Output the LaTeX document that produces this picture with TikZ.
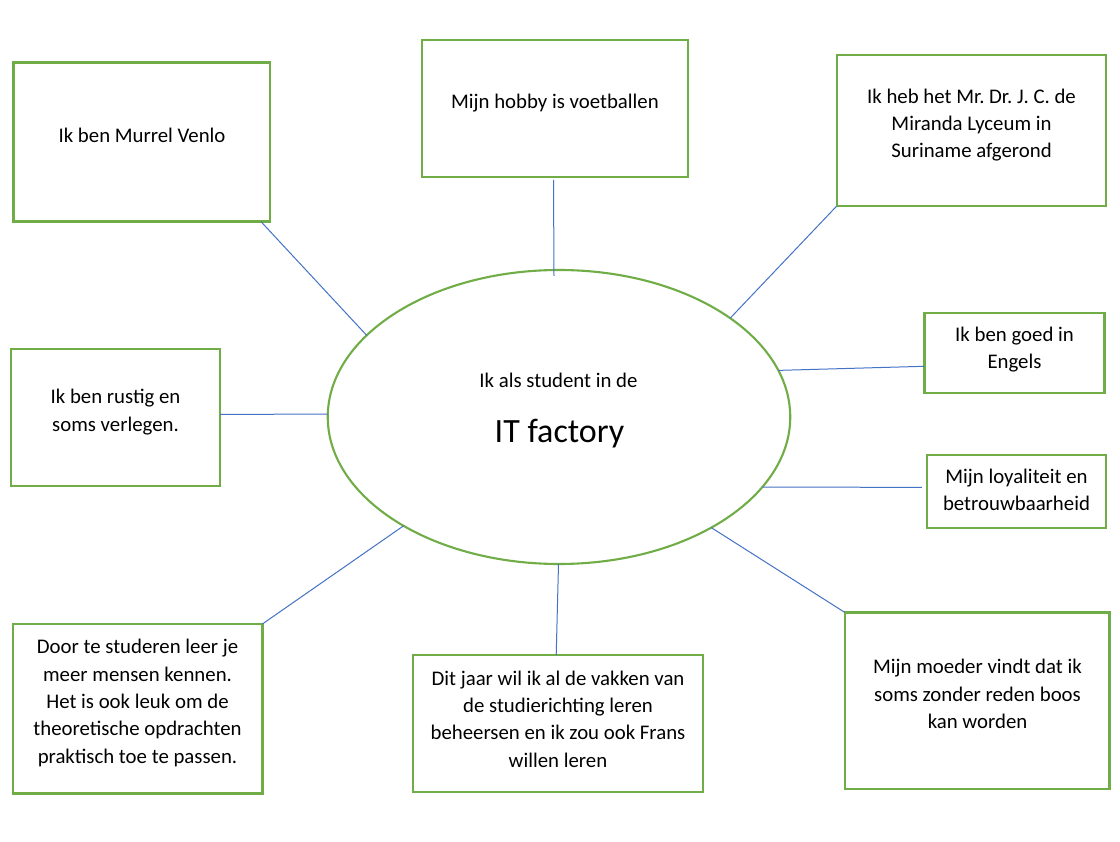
\documentclass[tikz,border=0pt]{standalone}
\usepackage{fontspec}
\setmainfont{Carlito}
\usetikzlibrary{shapes.geometric}
\definecolor{ogreen}{HTML}{70AD47}
\definecolor{oblue}{HTML}{4472C4}
\begin{document}
\frenchspacing
\begin{tikzpicture}[x=1pt,y=-1pt,
  box/.style={draw=ogreen,line width=2.4pt,rectangle,inner sep=0pt,outer sep=0pt},
  oval/.style={draw=ogreen,line width=2.1pt,ellipse,inner sep=0pt,outer sep=0pt},
  txt/.style={align=center,font=\fontsize{20.8}{27.4}\selectfont\frenchspacing,inner sep=0pt},
  conn/.style={draw=oblue,line width=1pt}]
\useasboundingbox (0,0) rectangle (1120,842);
\fill[white] (0,0) rectangle (1120,842);

% boxes
\node[box,minimum width=256.7pt,minimum height=159pt] (b1) at (141.7,142.2) {};
\node[box,minimum width=266pt,minimum height=137pt] (b2) at (555,108.5) {};
\node[box,minimum width=269.3pt,minimum height=151pt] (b3) at (971.4,130.5) {};
\node[box,minimum width=180pt,minimum height=80pt] (b4) at (1014.3,353.3) {};
\node[box,minimum width=179.3pt,minimum height=72.7pt] (b5) at (1016.4,491.4) {};
\node[box,minimum width=264.6pt,minimum height=176.7pt] (b6) at (977,700.7) {};
\node[box,minimum width=290pt,minimum height=136.7pt] (b7) at (557.7,723.4) {};
\node[box,minimum width=249.6pt,minimum height=169.3pt] (b8) at (137.5,708.7) {};
\node[box,minimum width=209pt,minimum height=137pt] (b9) at (115.5,417.5) {};

% central ellipse
\node[oval,minimum width=462.5pt,minimum height=294pt] (e) at (559,417) {};

% texts
\node[txt] (t1) at (142,135.5) {Ik ben Murrel Venlo};
\node[txt] (t2) at (555,103) {Mijn hobby is voetballen};
\node[txt] (t3) at (971.5,125) {Ik heb het Mr. Dr. J. C. de\\Miranda Lyceum in\\Suriname afgerond};
\node[txt] (t4) at (1014.5,349.5) {Ik ben goed in\\Engels};
\node[txt] (t5) at (1016.5,490) {Mijn loyaliteit en\\betrouwbaarheid};
\node[txt] (t6) at (977.5,694) {Mijn moeder vindt dat ik\\soms zonder reden boos\\kan worden};
\node[txt] (t7) at (558,719) {Dit jaar wil ik al de vakken van\\de studierichting leren\\beheersen en ik zou ook Frans\\willen leren};
\node[txt] (t8) at (137.5,703) {Door te studeren leer je\\meer mensen kennen.\\Het is ook leuk om de\\theoretische opdrachten\\praktisch toe te passen.};
\node[txt] (t9) at (115.5,412) {Ik ben rustig en\\soms verlegen.};
\node[txt] (e1) at (558.5,380) {Ik als student in de};
\node[txt,font=\fontsize{34}{40}\selectfont] (e2) at (559.5,434) {IT factory};

% connectors
\draw[conn] ([xshift=-9pt]b1.south east) -- (e.157.1);
\draw[conn] ([xshift=-1.5pt,yshift=-3pt]b2.south) -- ([xshift=-5pt,yshift=-6pt]e.north);
\draw[conn] (b3.south west) -- (e.30.5);
\draw[conn] ([yshift=-13pt]b4.west) -- (e.12.7);
\draw[conn] ([yshift=3pt]b9.east) -- ([yshift=3pt]e.west);
\draw[conn] (e.341.7) -- ([xshift=-5pt,yshift=4pt]b5.west);
\draw[conn] (b8.north east) -- (e.215.6);
\draw[conn] ([xshift=-1.5pt]b7.north) -- ([xshift=-0.5pt]e.south);
\draw[conn] (e.324.1) -- (b6.north west);
\end{tikzpicture}
\end{document}
